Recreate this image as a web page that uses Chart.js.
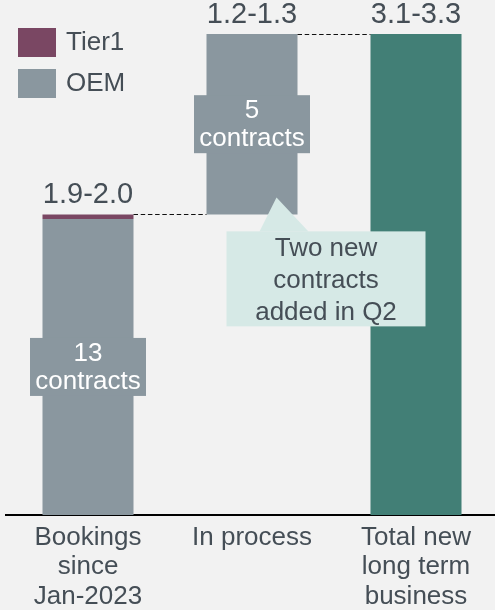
<!DOCTYPE html>
<html>
<head>
<meta charset="utf-8">
<script src="https://cdn.jsdelivr.net/npm/chart.js@4.4.0/dist/chart.umd.min.js"></script>
<style>
  html, body { margin: 0; padding: 0; background: #f2f2f2; overflow: hidden; }
  canvas { display: block; }
</style>
</head>
<body>
<canvas id="chart" width="500" height="610"></canvas>
<script>
const categories = [['Bookings', 'since', 'Jan-2023'], 'In process', ['Total new', 'long term', 'business']];
const oemValues = [1.97, 1.2, 0];
const tier1Values = [0.03, 0, 0];
const totalValues = [0, 0, 3.2];
const rangeLabels = ['1.9-2.0', '1.2-1.3', '3.1-3.3'];
const contractLabels = [['13', 'contracts'], ['5', 'contracts'], null];
const calloutText = ['Two new', 'contracts', 'added in Q2'];

const COLORS = {
  oem: '#8a979f',
  tier1: '#7a4763',
  total: '#427f76',
  callout: '#d6e9e6',
  text: '#454e56'
};
const FONT = "'Liberation Sans', Arial, sans-serif";

// waterfall: in-process floats on top of bookings, total starts at zero
const bookingsTop = oemValues[0] + tier1Values[0];
const tops = [bookingsTop, bookingsTop + oemValues[1], totalValues[2]];
const oemData = [[0, oemValues[0]], [bookingsTop, tops[1]], null];
const tier1Data = [[oemValues[0], bookingsTop], null, null];
const totalData = [null, null, [0, totalValues[2]]];

const annotations = {
  id: 'annotations',
  afterDatasetsDraw(chart) {
    const { ctx, scales: { x, y } } = chart;
    const oemBars = chart.getDatasetMeta(1).data;
    const bars = [oemBars[0], oemBars[1], chart.getDatasetMeta(2).data[2]];
    ctx.save();

    // dashed connectors between bar tops
    ctx.strokeStyle = '#111';
    ctx.lineWidth = 1;
    ctx.setLineDash([4.5, 2.7]);
    [[0, 1, tops[0]], [1, 2, tops[1]]].forEach(([a, b, v]) => {
      const py = Math.round(y.getPixelForValue(v)) + 0.5;
      ctx.beginPath();
      ctx.moveTo(bars[a].x + bars[a].width / 2, py);
      ctx.lineTo(bars[b].x - bars[b].width / 2, py);
      ctx.stroke();
    });
    ctx.setLineDash([]);

    // range labels above bars
    ctx.font = `29px ${FONT}`;
    ctx.fillStyle = COLORS.text;
    ctx.textAlign = 'center';
    ctx.textBaseline = 'alphabetic';
    rangeLabels.forEach((lbl, i) => {
      ctx.fillText(lbl, x.getPixelForValue(i), y.getPixelForValue(tops[i]) - 11);
    });

    // contract count boxes in the middle of the OEM bars
    ctx.font = `26px ${FONT}`;
    ctx.textBaseline = 'middle';
    contractLabels.forEach((lines, i) => {
      if (!lines) return;
      const bar = oemBars[i];
      const cy = (bar.y + bar.base) / 2;
      ctx.fillStyle = COLORS.oem;
      ctx.fillRect(bar.x - 58, cy - 29, 116, 58);
      ctx.fillStyle = '#fff';
      ctx.fillText(lines[0], bar.x, cy - 13);
      ctx.fillText(lines[1], bar.x, cy + 15);
    });

    // callout under the in-process bar
    const b = oemBars[1];
    const top = b.base + 17;
    ctx.fillStyle = COLORS.callout;
    ctx.beginPath();
    ctx.moveTo(b.x + 7.5, top);
    ctx.lineTo(b.x + 24.5, b.base - 17);
    ctx.lineTo(b.x + 56.5, top);
    ctx.closePath();
    ctx.fill();
    ctx.fillRect(b.x - 25.5, top, 199, 95);
    ctx.fillStyle = COLORS.text;
    calloutText.forEach((t, i) => {
      ctx.fillText(t, b.x + 74, top + 17 + i * 32);
    });

    ctx.restore();
  },
  afterDraw(chart) {
    // legend, top left
    const { ctx } = chart;
    ctx.save();
    ctx.font = `26px ${FONT}`;
    ctx.textBaseline = 'middle';
    ctx.textAlign = 'left';
    chart.data.datasets.slice(0, 2).forEach((ds, i) => {
      const top = 28 + i * 41;
      ctx.fillStyle = ds.backgroundColor;
      ctx.fillRect(18, top, 38, 29);
      ctx.fillStyle = COLORS.text;
      ctx.fillText(ds.label, 66, top + 15);
    });
    ctx.restore();
  }
};

new Chart(document.getElementById('chart'), {
  type: 'bar',
  data: {
    labels: categories,
    datasets: [
      { label: 'Tier1', data: tier1Data, backgroundColor: COLORS.tier1 },
      { label: 'OEM', data: oemData, backgroundColor: COLORS.oem },
      { label: 'Total', data: totalData, backgroundColor: COLORS.total }
    ]
  },
  options: {
    responsive: false,
    animation: false,
    datasets: { bar: { grouped: false, barPercentage: 0.555, categoryPercentage: 1 } },
    layout: { padding: { left: 6, right: 2, top: 34, bottom: 0 } },
    plugins: { legend: { display: false }, tooltip: { enabled: false } },
    scales: {
      x: {
        grid: { display: false, drawTicks: false },
        border: { display: true, color: '#000', width: 2 },
        ticks: {
          color: COLORS.text,
          font: { family: FONT, size: 26, lineHeight: 1.13 },
          padding: 8,
          maxRotation: 0,
          autoSkip: false
        },
        afterFit: (scale) => { scale.height = 95; }
      },
      y: { display: false, min: 0, max: 3.2 }
    }
  },
  plugins: [annotations]
});
</script>
</body>
</html>
